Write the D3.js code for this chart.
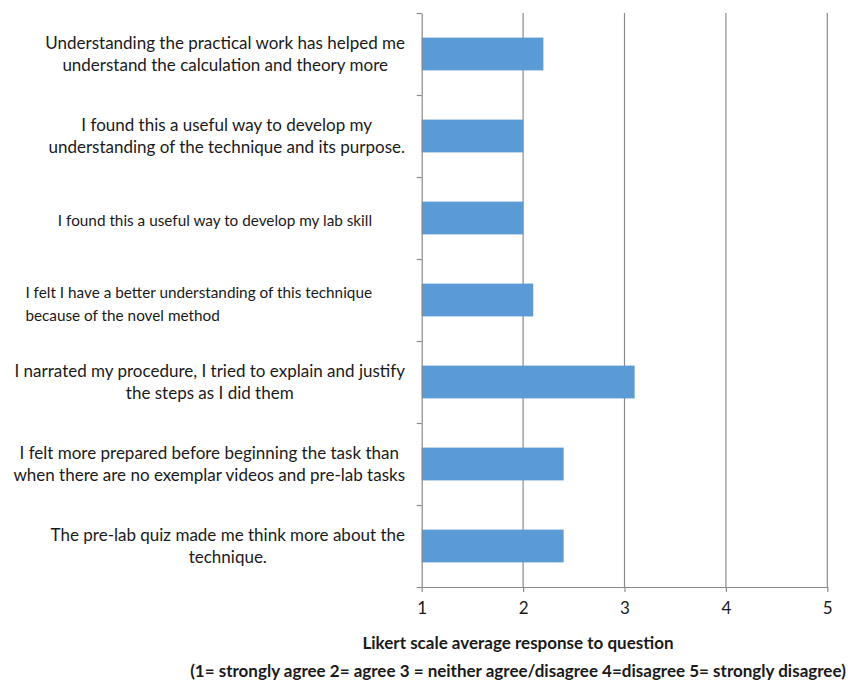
<!DOCTYPE html>
<html>
<head>
<meta charset="utf-8">
<script src="https://cdn.jsdelivr.net/npm/d3@7"></script>
<style>
  html, body { margin: 0; padding: 0; background: #ffffff; }
  svg { display: block; }
  text { font-family: Lato, "Open Sans", sans-serif; fill: #1a1a1a; }
</style>
</head>
<body>
<svg id="chart" width="848" height="681"></svg>
<script>
// Survey statements, top to bottom, each split into its printed lines
const questions = [
  ["Understanding the practical work has helped me", "understand the calculation and theory more"],
  ["I found this a useful way to develop my", "understanding of the technique and its purpose."],
  ["I found this a useful way to develop my lab skill"],
  ["I felt I have a better understanding of this technique", "because of the novel method"],
  ["I narrated my procedure, I tried to explain and justify", "the steps as I did them"],
  ["I felt more prepared before beginning the task than", "when there are no exemplar videos and pre-lab tasks"],
  ["The pre-lab quiz made me think more about the", "technique."]
];

// Average Likert response for each statement
const averages = [2.2, 2.0, 2.0, 2.1, 3.1, 2.4, 2.4];

// Axis ticks and axis title lines
const xTicks = [1, 2, 3, 4, 5];
const axisTitle = [
  "Likert scale average response to question",
  "(1= strongly agree 2= agree 3 = neither agree/disagree 4=disagree 5= strongly disagree)"
];

const svg = d3.select("#chart");
const plot = { left: 421.7, right: 827.3, top: 13, bottom: 587 };
const axisColor = "#8a8a8a";

const x = d3.scaleLinear().domain([1, 5]).range([plot.left, plot.right]);
const y = d3.scaleBand()
  .domain(d3.range(questions.length))
  .range([plot.top, plot.bottom])
  .paddingInner(0.6)
  .paddingOuter(0.3);
// category boundaries, used for the tick marks on the vertical axis
const yEdge = d3.scaleLinear().domain([0, questions.length]).range([plot.top, plot.bottom]);

// vertical gridlines
svg.append("g")
  .selectAll("line")
  .data(xTicks.slice(1))
  .join("line")
  .attr("x1", d => x(d)).attr("x2", d => x(d))
  .attr("y1", plot.top).attr("y2", plot.bottom)
  .attr("stroke", axisColor).attr("stroke-width", 1.2);

// bars
svg.append("g")
  .selectAll("rect")
  .data(averages)
  .join("rect")
  .attr("x", x(1))
  .attr("y", (d, i) => y(i))
  .attr("width", d => x(d) - x(1))
  .attr("height", y.bandwidth())
  .attr("fill", "#5b9bd5");

// vertical axis with tick marks between categories
const yAxis = svg.append("g")
  .attr("transform", `translate(${plot.left},0)`)
  .call(d3.axisLeft(yEdge).tickValues(d3.range(questions.length + 1)).tickFormat("").tickSize(5).tickSizeOuter(0));
yAxis.select(".domain").attr("stroke", axisColor).attr("stroke-width", 1.2);
yAxis.selectAll(".tick line").attr("stroke", axisColor).attr("stroke-width", 1.2);

// horizontal axis
const xAxis = svg.append("g")
  .attr("transform", `translate(0,${plot.bottom})`)
  .call(d3.axisBottom(x).tickValues(xTicks).tickFormat(d3.format("d")).tickSize(5).tickSizeOuter(0).tickPadding(10));
xAxis.select(".domain").attr("stroke", axisColor).attr("stroke-width", 1.2);
xAxis.selectAll(".tick line").attr("stroke", axisColor).attr("stroke-width", 1.2);
xAxis.selectAll(".tick text")
  .style("font-family", "Lato, sans-serif")
  .attr("font-size", 17)
  .attr("fill", "#1a1a1a");

// statement labels: blocks flush against the axis, lines centred within the block;
// statements 3 and 4 are set smaller, and 4 is ranged left
function labelStyle(i) {
  if (i === 2) return { size: 15.3, right: 372, align: "center", lineGap: 23, shift: 3 };
  if (i === 3) return { size: 15.3, right: 372, align: "left", lineGap: 23, shift: 4 };
  return { size: 17, right: 405, align: "center", lineGap: 22, shift: 0 };
}

const labels = svg.append("g");
questions.forEach((lines, i) => {
  const st = labelStyle(i);
  const g = labels.append("g");
  const cy = y(i) + y.bandwidth() / 2 + st.shift;
  const texts = lines.map((line, k) =>
    g.append("text")
      .attr("font-size", st.size)
      .attr("y", cy + (k - (lines.length - 1) / 2) * st.lineGap)
      .attr("dy", "0.35em")
      .text(line)
  );
  const widths = texts.map(t => t.node().getComputedTextLength());
  const blockW = d3.max(widths);
  const left = st.right - blockW;
  texts.forEach((t, k) => {
    if (st.align === "left") t.attr("x", left);
    else t.attr("x", left + (blockW - widths[k]) / 2);
  });
});

// axis title
svg.append("g")
  .selectAll("text")
  .data(axisTitle)
  .join("text")
  .attr("x", 518)
  .attr("y", (d, i) => 649 + i * 28)
  .attr("text-anchor", "middle")
  .attr("font-size", 17)
  .attr("font-weight", "bold")
  .text(d => d);
</script>
</body>
</html>
